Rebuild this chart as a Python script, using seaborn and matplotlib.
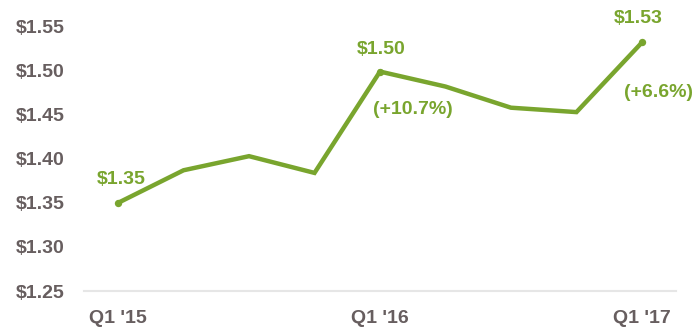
import matplotlib
matplotlib.use("Agg")
import matplotlib.pyplot as plt
import seaborn as sns
import pandas as pd

quarters = ["Q1 '15", "Q2 '15", "Q3 '15", "Q4 '15", "Q1 '16",
            "Q2 '16", "Q3 '16", "Q4 '16", "Q1 '17"]
prices = [1.350, 1.387, 1.403, 1.384, 1.499, 1.482, 1.458, 1.453, 1.532]
shown_ticks = ["Q1 '15", "Q1 '16", "Q1 '17"]
y_ticks = [1.25, 1.30, 1.35, 1.40, 1.45, 1.50, 1.55]

GREEN = "#79a52e"
GREY = "#675e5f"

sns.set_theme(style="white")
plt.rcParams["font.family"] = ["Liberation Sans", "DejaVu Sans"]

df = pd.DataFrame({"pos": range(len(quarters)), "price": prices})

fig = plt.figure(figsize=(6.96, 3.30), dpi=100)
ax = fig.add_axes([84 / 696, 39 / 330, 592 / 696, 282 / 330])

sns.lineplot(data=df, x="pos", y="price", ax=ax, color=GREEN, linewidth=3.2,
             solid_joinstyle="miter")
hl = df.iloc[[0, 4, 8]]
ax.scatter(hl["pos"], hl["price"], s=28, color=GREEN, zorder=3, linewidths=0)

ax.set_xlim(-0.52, 8.52)
ax.set_ylim(1.25, 1.57)
ax.set_yticks(y_ticks)
ax.set_yticklabels([f"${v:.2f}" for v in y_ticks])
ax.set_xticks([quarters.index(q) for q in shown_ticks])
ax.set_xticklabels(shown_ticks)
ax.set_xlabel("")
ax.set_ylabel("")

for s in ["top", "right", "left"]:
    ax.spines[s].set_visible(False)
ax.spines["bottom"].set_color("#e6e6e6")
ax.spines["bottom"].set_linewidth(1.5)
ax.tick_params(axis="both", length=0, labelsize=14, labelcolor=GREY)
ax.tick_params(axis="y", pad=14)
ax.tick_params(axis="x", pad=14)
for lab in ax.get_xticklabels() + ax.get_yticklabels():
    lab.set_fontweight("bold")

txt = dict(color=GREEN, fontsize=14, fontweight="bold", textcoords="offset points")
ax.annotate(f"${prices[0]:.2f}", (0, prices[0]), xytext=(2, 17), ha="center", va="center", **txt)
ax.annotate(f"${prices[4]:.2f}", (4, prices[4]), xytext=(1, 16), ha="center", va="center", **txt)
ax.annotate("(+10.7%)", (4, prices[4]), xytext=(24, -27), ha="center", va="center", **txt)
ax.annotate(f"${prices[8]:.2f}", (8, prices[8]), xytext=(-3, 17), ha="center", va="center", **txt)
ax.annotate("(+6.6%)", (8, prices[8]), xytext=(12, -36), ha="center", va="center", **txt)

fig.savefig("out.png", dpi=100)
